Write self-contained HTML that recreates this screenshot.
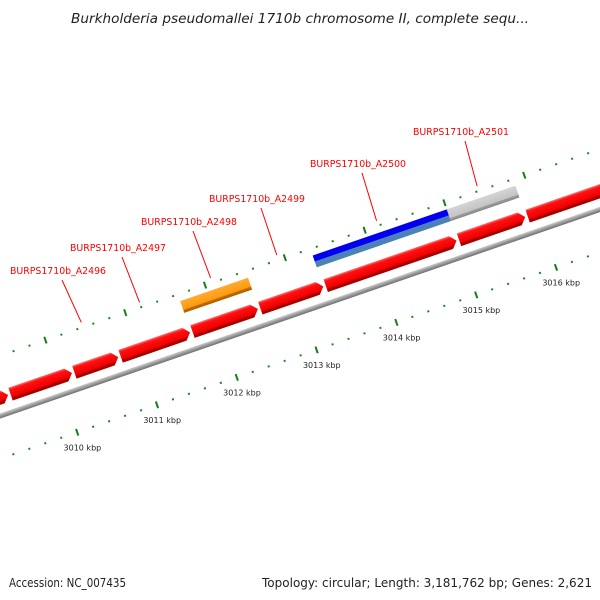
<!DOCTYPE html>
<html><head><meta charset="utf-8"><style>
html,body{margin:0;padding:0;background:#fff;}
svg{display:block;}
text{font-family:"DejaVu Sans","Liberation Sans",sans-serif;}
</style></head><body>
<svg id="map" width="600" height="600" viewBox="0 0 600 600" xmlns="http://www.w3.org/2000/svg">
<defs>
<linearGradient id="gRed" x1="0" y1="0" x2="0" y2="1">
<stop offset="0" stop-color="#ff7070"/><stop offset="0.18" stop-color="#ff1010"/><stop offset="0.72" stop-color="#f00000"/><stop offset="0.8" stop-color="#b00000"/><stop offset="1" stop-color="#a00000"/></linearGradient>
<linearGradient id="gOrange" x1="0" y1="0" x2="0" y2="1">
<stop offset="0" stop-color="#ffaa30"/><stop offset="0.72" stop-color="#ff9a10"/><stop offset="0.78" stop-color="#c06a00"/><stop offset="1" stop-color="#b06000"/></linearGradient>
<linearGradient id="gGrey" x1="0" y1="0" x2="0" y2="1">
<stop offset="0" stop-color="#d4d4d4"/><stop offset="0.72" stop-color="#c4c4c4"/><stop offset="0.78" stop-color="#999"/><stop offset="1" stop-color="#8a8a8a"/></linearGradient>
<linearGradient id="gBack" x1="0" y1="0" x2="0" y2="1">
<stop offset="0" stop-color="#cfcfcf"/><stop offset="0.5" stop-color="#9a9a9a"/><stop offset="1" stop-color="#707070"/></linearGradient>
</defs>
<text x="300" y="23" text-anchor="middle" font-size="13" font-style="italic" fill="#222" textLength="458" lengthAdjust="spacingAndGlyphs">Burkholderia pseudomallei 1710b chromosome II, complete sequ...</text>
<g id="frame" transform="translate(64,394) rotate(-19)"></g>
<g id="overlay"></g>
<text x="9" y="587" font-size="12.5" fill="#222" textLength="117" lengthAdjust="spacingAndGlyphs">Accession: NC_007435</text>
<text x="592" y="587" font-size="12.5" fill="#222" text-anchor="end" textLength="330" lengthAdjust="spacingAndGlyphs">Topology: circular; Length: 3,181,762 bp; Genes: 2,621</text>
</svg>
<script>
// data (kbp)
const redStarts = [3008.40, 3009.40, 3010.20, 3010.78, 3011.68, 3012.53, 3013.35, 3015.02, 3015.88];
const redEnds   = [3009.37, 3010.17, 3010.75, 3011.65, 3012.50, 3013.32, 3014.99, 3015.85, 3017.50];
const orangeStart = [3011.66]; const orangeEnd = [3012.51];
const blueStart = [3013.32]; const blueEnd = [3015.00];
const greyStart = [3015.00]; const greyEnd = [3015.86];
const navyStart = [3008.60]; const navyEnd = [3009.32];
const tickKbp = [3008, 3009, 3010, 3011, 3012, 3013, 3014, 3015, 3016, 3017];
const tickLabels = ["3008 kbp","3009 kbp","3010 kbp","3011 kbp","3012 kbp","3013 kbp","3014 kbp","3015 kbp","3016 kbp","3017 kbp"];
const geneNames = ["BURPS1710b_A2496","BURPS1710b_A2497","BURPS1710b_A2498","BURPS1710b_A2499","BURPS1710b_A2500","BURPS1710b_A2501"];
const geneMid = [3010.47, 3011.20, 3012.09, 3012.92, 3014.17, 3015.43];
const labelX = [10, 70, 141, 209, 310, 413];
const labelY = [274, 251, 225, 202, 167, 135];

const NS = "http://www.w3.org/2000/svg";
const PX = 84.4, K0 = 3010, ANG = -19 * Math.PI / 180, OX = 64, OY = 394;
function u(k){ return (k - K0) * PX; }
function toScreen(uu, v){ return [OX + uu*Math.cos(ANG) - v*Math.sin(ANG), OY + uu*Math.sin(ANG) + v*Math.cos(ANG)]; }
const frame = document.getElementById('frame');
const overlay = document.getElementById('overlay');
function mk(tag, attrs, parent){ const e = document.createElementNS(NS, tag); for (const k in attrs) e.setAttribute(k, attrs[k]); parent.appendChild(e); return e; }

let bb = mk('rect', {x: -400, y: -2.5, width: 1400, height: 5, fill: 'url(#gBack)'}, frame);



function ruler(v, name){
  const g = mk('g', {}, frame);
  
  
  for (let k = 3007; k <= 3018.001; k += 0.2){
    const kk = Math.round(k*5)/5;
    const major = Math.abs(kk - Math.round(kk)) < 1e-6;
    const r = mk('rect', major ? {x: u(kk)-1, y: v-3.5, width: 2, height: 7, fill: '#1a7a1a'} : {x: u(kk)-1, y: v-1, width: 2, height: 2, fill: '#1a8a1a'}, g);
    
    
  }
}
ruler(-57, 'outer-ruler');
ruler(40.5, 'inner-ruler');

for (let i = 0; i < redStarts.length; i++){
  const a = u(redStarts[i]), b = u(redEnds[i]), bt = 13.5, y0 = -24;
  const head = 6;
  const p = mk('polygon', {points: `${a},${y0} ${b-head},${y0} ${b},${y0+bt/2} ${b-head},${y0+bt} ${a},${y0+bt}`, fill: 'url(#gRed)'}, frame);
  
  
}
function bar(s, e, fill, name){
  const r = mk('rect', {x: u(s), y: -50, width: u(e)-u(s), height: 12.5, fill: fill}, frame);
  
  
}
bar(orangeStart[0], orangeEnd[0], 'url(#gOrange)', 'orange-feature');
bar(greyStart[0], greyEnd[0], 'url(#gGrey)', 'grey-feature');
bar(navyStart[0], navyEnd[0], '#4a4a9a', 'navy-feature');
{
  const r1 = mk('rect', {x: u(blueStart[0]), y: -50, width: u(blueEnd[0])-u(blueStart[0]), height: 6.5, fill: '#0000f0'}, frame);
  
  
  const r2 = mk('rect', {x: u(blueStart[0]), y: -43.5, width: u(blueEnd[0])-u(blueStart[0]), height: 6, fill: '#4a82b8'}, frame);
  
  
}

for (let i = 0; i < tickKbp.length; i++){
  const [sx, sy] = toScreen(u(tickKbp[i]), 56.5);
  if (sx < 25 || sx > 600) continue;
  const t = mk('text', {x: sx, y: sy + 3, 'font-size': 8, fill: '#222', 'text-anchor': 'middle'}, overlay);
  t.textContent = tickLabels[i];
  
  
}

for (let i = 0; i < geneNames.length; i++){
  const t = mk('text', {x: labelX[i], y: labelY[i], 'font-size': 10, fill: '#ff0000', textLength: 96, lengthAdjust: 'spacingAndGlyphs'}, overlay);
  t.textContent = geneNames[i];
  
  
  const [ex, ey] = toScreen(u(geneMid[i]), -62);
  const l = mk('line', {x1: labelX[i] + 52, y1: labelY[i] + 6, x2: ex, y2: ey, stroke: '#ff0000', 'stroke-width': 1}, overlay);
  
  
}
</script>
</body></html>
